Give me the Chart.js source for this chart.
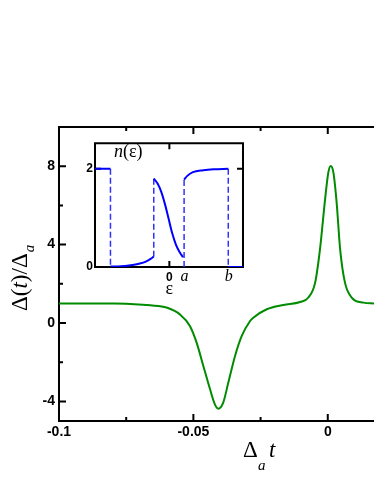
<!DOCTYPE html>
<html>
<head>
<meta charset="utf-8">
<script src="https://cdn.jsdelivr.net/npm/chart.js@4.4.1/dist/chart.umd.min.js"></script>
<style>
  html, body { margin: 0; padding: 0; background: #fff; }
  #wrap { position: relative; width: 374px; height: 484px; overflow: hidden; }
  #main { position: absolute; left: 0; top: 0; }
  #inset { position: absolute; left: 70px; top: 134px; }
</style>
</head>
<body>
<div id="wrap">
  <canvas id="main" width="374" height="484"></canvas>
  <canvas id="inset" width="176" height="166"></canvas>
</div>
<script>
// Main curve: Delta(t)/Delta_a against Delta_a t
const tValues = [-0.1, -0.09, -0.08, -0.072, -0.066, -0.06, -0.055, -0.0513, -0.0488, -0.0463,
  -0.0438, -0.042, -0.0407, -0.0389, -0.037, -0.0345, -0.032, -0.0289, -0.0277, -0.0227,
  -0.0165, -0.0103, -0.0072, -0.0047, -0.0029, -0.001, 0.0002, 0.0011, 0.0021, 0.0033,
  0.0046, 0.0064, 0.0089, 0.0133, 0.0172];
const deltaValues = [1.0, 1.0, 0.99, 0.96, 0.90, 0.79, 0.44, -0.15, -1.0, -2.19,
  -3.38, -4.15, -4.37, -4.06, -3.04, -1.68, -0.66, 0.10, 0.27, 0.70,
  0.92, 1.07, 1.30, 2.06, 3.76, 6.31, 7.67, 8.01, 7.67, 6.14,
  3.76, 2.06, 1.30, 1.04, 1.0];

const xTickValues = [-0.1, -0.075, -0.05, -0.025, 0];
const xTickLabels = ['-0.1', '', '-0.05', '', '0'];
const yTickValues = [-4, -2, 0, 2, 4, 6, 8];
const yTickLabels = ['-4', '', '0', '', '4', '', '8'];

// Inset: n(eps), solid pieces
const epsPlateau = [-5.05, -4];
const nPlateau = [2, 2];
const epsLow = [-4, -3.5, -3, -2.5, -2, -1.6, -1.3, -1.06];
const nLow = [0.01, 0.01, 0.02, 0.04, 0.07, 0.11, 0.16, 0.21];
const epsDrop = [-1.06, -0.8, -0.55, -0.3, -0.05, 0.2, 0.45, 0.7, 0.93];
const nDrop = [1.8, 1.7, 1.53, 1.28, 0.98, 0.68, 0.45, 0.3, 0.2];
const epsRise = [1, 1.2, 1.6, 2.3, 3, 4];
const nRise = [1.78, 1.85, 1.93, 1.97, 1.99, 2.0];
const epsHigh = [4, 5];
const nHigh = [0, 0];
// dashed jumps
const jumpEps = [-4, -1.06, 1, 4];
const jumpFrom = [2, 0.21, 0, 2];
const jumpTo = [0, 1.8, 1.78, 0];

const insetTickValues = [0, 1, 4];
const insetTickLabels = ['0', 'a', 'b'];
const insetYTicks = [0, 2];

Chart.defaults.font.family = "'Liberation Sans', Arial, sans-serif";
Chart.defaults.color = '#000';

const SERIF = "'Liberation Serif', 'Times New Roman', serif";

function toPoints(xs, ys) {
  return xs.map((x, i) => ({ x: x, y: ys[i] }));
}

// axis frame with inward ticks
const framePlugin = {
  id: 'frame',
  beforeDatasetsDraw(chart, args, opts) {
    const { ctx, chartArea: a, scales } = chart;
    ctx.save();
    ctx.strokeStyle = '#000';
    ctx.lineWidth = opts.width;
    ctx.lineCap = 'square';
    ctx.beginPath();
    if (opts.sides.includes('left')) { ctx.moveTo(a.left, a.top); ctx.lineTo(a.left, a.bottom); }
    if (opts.sides.includes('right')) { ctx.moveTo(a.right, a.top); ctx.lineTo(a.right, a.bottom); }
    if (opts.sides.includes('top')) { ctx.moveTo(a.left, a.top); ctx.lineTo(a.right, a.top); }
    if (opts.sides.includes('bottom')) { ctx.moveTo(a.left, a.bottom); ctx.lineTo(a.right, a.bottom); }
    ctx.stroke();

    ctx.lineCap = 'butt';
    ctx.beginPath();
    opts.xTicks.forEach(t => {
      const px = scales.x.getPixelForValue(t.v);
      ctx.moveTo(px, a.bottom); ctx.lineTo(px, a.bottom - t.len);
      ctx.moveTo(px, a.top); ctx.lineTo(px, a.top + t.len);
    });
    opts.yTicks.forEach(t => {
      const py = scales.y.getPixelForValue(t.v);
      ctx.moveTo(a.left, py); ctx.lineTo(a.left + t.len, py);
      if (opts.sides.includes('right')) { ctx.moveTo(a.right, py); ctx.lineTo(a.right - t.len, py); }
    });
    ctx.stroke();
    ctx.restore();
  }
};

// axis titles for the main chart
const mainTitles = {
  id: 'mainTitles',
  afterDraw(chart) {
    const ctx = chart.ctx;
    ctx.save();
    ctx.fillStyle = '#000';
    ctx.textBaseline = 'alphabetic';
    ctx.textAlign = 'left';

    // x title: Delta_a t
    ctx.font = '23px ' + SERIF;
    ctx.fillText('\u0394', 243, 457);
    ctx.font = 'italic 15px ' + SERIF;
    ctx.fillText('a', 258, 470);
    ctx.font = 'italic 23px ' + SERIF;
    ctx.fillText('t', 269, 457);

    // y title: Delta(t)/Delta_a, rotated
    ctx.translate(27, 311);
    ctx.rotate(-Math.PI / 2);
    let x = 0;
    const parts = [['\u0394(', ''], ['t', 'italic '], [')/\u0394', '']];
    parts.forEach(p => {
      ctx.font = p[1] + '23px ' + SERIF;
      ctx.fillText(p[0], x, 0);
      x += ctx.measureText(p[0]).width;
    });
    ctx.font = 'italic 15px ' + SERIF;
    ctx.fillText('a', x + 1, 7);
    ctx.restore();
  }
};

// inset labels: n(eps), x tick labels, eps
const insetTexts = {
  id: 'insetTexts',
  afterDraw(chart) {
    const ctx = chart.ctx;
    const xs = chart.scales.x;
    ctx.save();
    ctx.fillStyle = '#000';
    ctx.textBaseline = 'alphabetic';
    ctx.textAlign = 'left';
    ctx.font = 'italic 18px ' + SERIF;
    ctx.fillText('n', 44, 23);
    let w = ctx.measureText('n').width;
    ctx.font = '18px ' + SERIF;
    ctx.fillText('(\u03b5)', 44 + w, 23);

    ctx.textAlign = 'center';
    insetTickValues.forEach((v, i) => {
      const label = insetTickLabels[i];
      ctx.font = label === '0' ? "bold 12px 'Liberation Sans', Arial, sans-serif" : 'italic 16px ' + SERIF;
      ctx.fillText(label, xs.getPixelForValue(v) + (label === '0' ? 0 : 0.5), 147);
    });
    ctx.font = '18px ' + SERIF;
    ctx.fillText('\u03b5', xs.getPixelForValue(0), 160);
    ctx.restore();
  }
};

const mainChart = new Chart(document.getElementById('main'), {
  type: 'line',
  data: {
    datasets: [{
      data: toPoints(tValues, deltaValues),
      borderColor: '#008b00',
      borderWidth: 2,
      pointRadius: 0,
      fill: false,
      cubicInterpolationMode: 'monotone'
    }]
  },
  options: {
    responsive: false,
    animation: false,
    events: [],
    layout: { padding: { top: 127, left: 0, right: 0, bottom: 0 } },
    plugins: {
      legend: { display: false },
      tooltip: { enabled: false },
      frame: {
        width: 2,
        sides: ['left', 'top', 'bottom'],
        xTicks: xTickValues.map((v, i) => ({ v: v, len: xTickLabels[i] ? 7 : 4 })),
        yTicks: yTickValues.map((v, i) => ({ v: v, len: yTickLabels[i] ? 7 : 4 }))
      }
    },
    scales: {
      x: {
        type: 'linear',
        min: -0.1,
        max: 0.0172,
        grid: { display: false, drawTicks: false },
        border: { display: false },
        afterBuildTicks: s => { s.ticks = xTickValues.map(v => ({ value: v })); },
        afterFit: s => { s.height = 63; },
        ticks: {
          autoSkip: false,
          maxRotation: 0,
          padding: 3,
          font: { size: 14, weight: 'bold' },
          callback: v => { const i = xTickValues.indexOf(v); return i >= 0 ? xTickLabels[i] : ''; }
        }
      },
      y: {
        min: -5,
        max: 10,
        grid: { display: false, drawTicks: false },
        border: { display: false },
        afterBuildTicks: s => { s.ticks = yTickValues.map(v => ({ value: v })); },
        afterFit: s => { s.width = 59; },
        ticks: {
          autoSkip: false,
          padding: 4,
          font: { size: 14, weight: 'bold' },
          callback: v => { const i = yTickValues.indexOf(v); return i >= 0 ? yTickLabels[i] : ''; }
        }
      }
    }
  },
  plugins: [framePlugin, mainTitles]
});

// solid pieces joined with gaps, dashed jumps likewise
const gap = x => ({ x: x, y: null });
const solidPoints = [].concat(
  toPoints(epsPlateau, nPlateau), [gap(-4)],
  toPoints(epsLow, nLow), [gap(-1.06)],
  toPoints(epsDrop, nDrop), [gap(0.95)],
  toPoints(epsRise, nRise), [gap(4)],
  toPoints(epsHigh, nHigh)
);
const dashedPoints = [];
jumpEps.forEach((e, i) => {
  dashedPoints.push({ x: e, y: jumpFrom[i] }, { x: e, y: jumpTo[i] }, gap(e));
});

const insetChart = new Chart(document.getElementById('inset'), {
  type: 'line',
  data: {
    datasets: [
      {
        data: solidPoints,
        borderColor: '#0000ff',
        borderWidth: 2,
        pointRadius: 0,
        spanGaps: false,
        cubicInterpolationMode: 'monotone'
      },
      {
        data: dashedPoints,
        borderColor: '#3030ff',
        borderWidth: 1.5,
        borderDash: [6, 3],
        pointRadius: 0,
        spanGaps: false,
        tension: 0
      }
    ]
  },
  options: {
    responsive: false,
    animation: false,
    events: [],
    layout: { padding: { top: 7, right: 3, left: 0, bottom: 0 } },
    plugins: {
      legend: { display: false },
      tooltip: { enabled: false },
      frame: {
        width: 2,
        sides: ['left', 'right', 'top', 'bottom'],
        xTicks: [{ v: 0, len: 6 }],
        yTicks: insetYTicks.map(v => ({ v: v, len: 6 }))
      }
    },
    scales: {
      x: {
        type: 'linear',
        min: -5.05,
        max: 5,
        grid: { display: false, drawTicks: false },
        border: { display: false },
        ticks: { display: false },
        afterFit: s => { s.height = 33; }
      },
      y: {
        min: 0,
        max: 2.52,
        grid: { display: false, drawTicks: false },
        border: { display: false },
        afterBuildTicks: s => { s.ticks = insetYTicks.map(v => ({ value: v })); },
        afterFit: s => { s.width = 25; },
        ticks: {
          autoSkip: false,
          padding: 2,
          font: { size: 12, weight: 'bold' },
          callback: v => String(v)
        }
      }
    }
  },
  plugins: [framePlugin, insetTexts]
});
</script>
</body>
</html>
